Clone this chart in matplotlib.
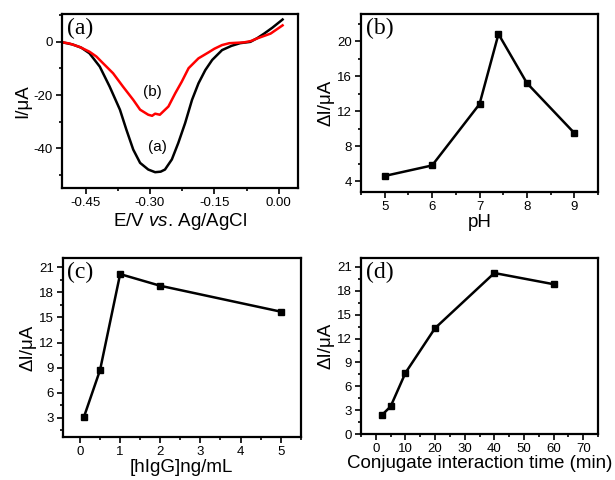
import matplotlib
matplotlib.use("Agg")
import matplotlib.pyplot as plt
from matplotlib.ticker import MultipleLocator

# ---- Data ----
# (a) DPV curves
E_a = [-0.503, -0.480, -0.460, -0.441, -0.417, -0.394, -0.370, -0.355, -0.339, -0.323,
       -0.304, -0.288, -0.275, -0.265, -0.249, -0.234, -0.218, -0.202, -0.187, -0.171,
       -0.155, -0.132, -0.110, -0.090, -0.066, -0.050, -0.034, -0.015, 0.009]
I_a = [-0.2, -1.0, -2.2, -4.3, -9.3, -16.8, -25.5, -33.0, -40.5, -45.5,
       -48.0, -49.0, -48.8, -48.0, -44.2, -38.0, -30.5, -21.8, -15.6, -10.6,
       -6.8, -3.1, -1.5, -0.5, 0.0, 1.4, 3.1, 5.3, 8.4]
E_b = [-0.503, -0.488, -0.464, -0.441, -0.425, -0.409, -0.386, -0.363, -0.339, -0.323,
       -0.304, -0.295, -0.288, -0.277, -0.257, -0.241, -0.226, -0.210, -0.187, -0.163,
       -0.150, -0.132, -0.115, -0.081, -0.065, -0.050, -0.019, 0.009]
I_b = [-0.2, -0.6, -1.9, -3.7, -5.5, -8.1, -11.8, -16.8, -21.8, -25.5,
       -27.4, -27.8, -27.0, -27.4, -24.3, -19.3, -15.0, -9.9, -6.2, -3.9,
       -2.6, -1.2, -0.5, -0.2, 0.3, 1.3, 3.1, 6.2]

# (b) pH
pH = [5, 6, 7, 7.4, 8, 9]
dI_pH = [4.6, 5.8, 12.8, 20.8, 15.2, 9.5]

# (c) hIgG concentration
conc = [0.1, 0.5, 1, 2, 5]
dI_conc = [3.1, 8.7, 20.2, 18.8, 15.7]

# (d) conjugate interaction time
t_min = [2, 5, 10, 20, 40, 60]
dI_t = [2.4, 3.5, 7.7, 13.3, 20.2, 18.8]

plt.rcParams['font.family'] = ['Liberation Sans', 'DejaVu Sans']
plt.rcParams['mathtext.fontset'] = 'custom'
plt.rcParams['mathtext.rm'] = 'Liberation Sans'
plt.rcParams['mathtext.it'] = 'Liberation Sans:italic'

fig = plt.figure(figsize=(6.15, 4.8), dpi=100)

TICK = 9.5
LAB = 13.5

def style(ax):
    for s in ['top', 'right', 'left', 'bottom']:
        ax.spines[s].set_linewidth(1.6)
    ax.tick_params(which='both', direction='out', top=False, right=False,
                   labelsize=TICK, width=1.2, pad=2.5)
    ax.tick_params(which='major', length=4)
    ax.tick_params(which='minor', length=2.5)

def panel_label(ax, s):
    ax.text(0.02, 0.98, s, transform=ax.transAxes, ha='left', va='top',
            fontsize=17, family='Liberation Serif')

# (a)
ax = fig.add_axes([0.1008, 0.608, 0.3838, 0.363])
ax.plot(E_a, I_a, color='black', lw=1.8)
ax.plot(E_b, I_b, color='red', lw=1.8)
ax.set_xlim(-0.505, 0.045)
ax.set_ylim(-55, 10.5)
ax.xaxis.set_minor_locator(MultipleLocator(0.075))
ax.yaxis.set_minor_locator(MultipleLocator(10))
ax.set_xticks([-0.45, -0.30, -0.15, 0.00])
ax.set_xticklabels(['-0.45', '-0.30', '-0.15', '0.00'])
ax.set_yticks([-40, -20, 0])
ax.set_yticklabels(['-40', '-20', '0'])
ax.set_xlabel('E/V $\\mathit{vs}$. Ag/AgCl', fontsize=LAB, labelpad=1)
ax.set_ylabel('I/μA', fontsize=LAB, labelpad=2)
ax.text(-0.294, -19.0, '(b)', fontsize=11, ha='center', va='center')
ax.text(-0.282, -39.5, '(a)', fontsize=11, ha='center', va='center')
style(ax)
panel_label(ax, '(a)')

# (b)
ax = fig.add_axes([0.587, 0.6006, 0.3854, 0.3704])
ax.plot(pH, dI_pH, color='black', lw=1.8, marker='s', ms=4.5)
ax.set_xlim(4.5, 9.5)
ax.set_ylim(2.8, 23.1)
ax.xaxis.set_major_locator(MultipleLocator(1))
ax.xaxis.set_minor_locator(MultipleLocator(0.5))
ax.yaxis.set_major_locator(MultipleLocator(4))
ax.yaxis.set_minor_locator(MultipleLocator(2))
ax.set_xlabel('pH', fontsize=LAB, labelpad=1)
ax.set_ylabel('ΔI/μA', fontsize=LAB, labelpad=2)
style(ax)
panel_label(ax, '(b)')

# (c)
ax = fig.add_axes([0.102, 0.090, 0.387, 0.372])
ax.plot(conc, dI_conc, color='black', lw=1.8, marker='s', ms=4.5)
ax.set_xlim(-0.43, 5.5)
ax.set_ylim(0.7, 22.1)
ax.xaxis.set_major_locator(MultipleLocator(1))
ax.xaxis.set_minor_locator(MultipleLocator(0.5))
ax.yaxis.set_minor_locator(MultipleLocator(1.5))
ax.set_yticks([3, 6, 9, 12, 15, 18, 21])
ax.set_xlabel('[hIgG]ng/mL', fontsize=LAB, labelpad=1)
ax.set_ylabel('ΔI/μA', fontsize=LAB, labelpad=2)
style(ax)
panel_label(ax, '(c)')

# (d)
ax = fig.add_axes([0.587, 0.095, 0.3854, 0.367])
ax.plot(t_min, dI_t, color='black', lw=1.8, marker='s', ms=4.5)
ax.set_xlim(-5, 75)
ax.set_ylim(0, 22.05)
ax.xaxis.set_minor_locator(MultipleLocator(5))
ax.yaxis.set_minor_locator(MultipleLocator(1.5))
ax.set_xticks([0, 10, 20, 30, 40, 50, 60, 70])
ax.set_yticks([0, 3, 6, 9, 12, 15, 18, 21])
ax.set_xlabel('Conjugate interaction time (min)', fontsize=LAB, labelpad=0)
ax.set_ylabel('ΔI/μA', fontsize=LAB, labelpad=2)
style(ax)
panel_label(ax, '(d)')

fig.savefig('out.png', dpi=100)
